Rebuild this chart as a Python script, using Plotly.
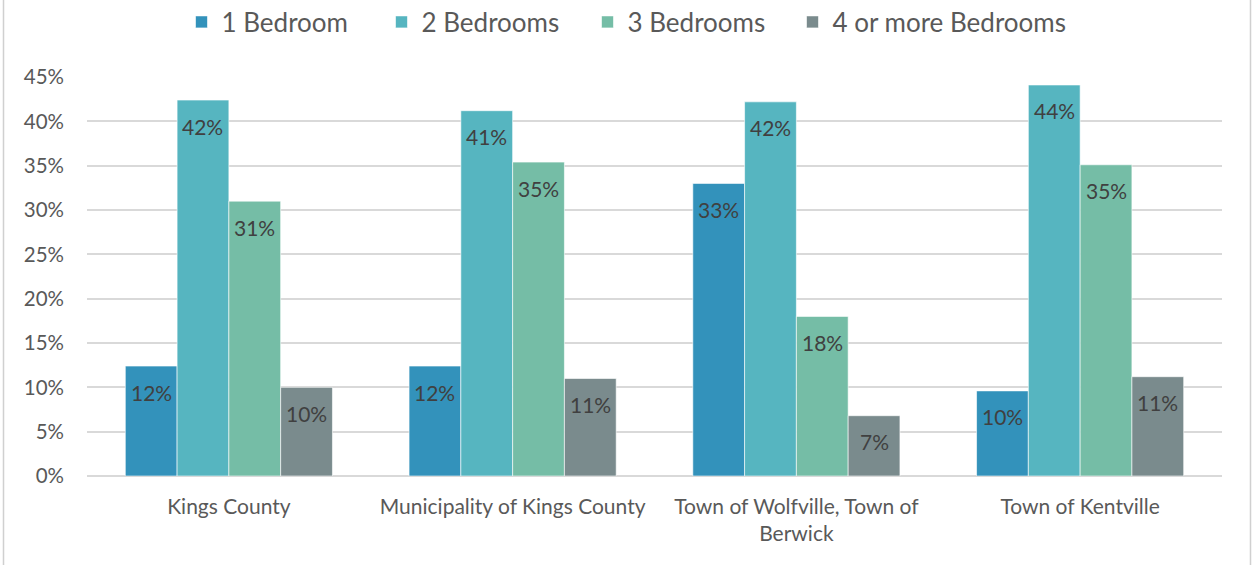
import plotly.graph_objects as go

categories = ["Kings County", "Municipality of Kings County",
              "Town of Wolfville, Town of<br>Berwick", "Town of Kentville"]
series_names = ["1 Bedroom", "2 Bedrooms", "3 Bedrooms", "4 or more Bedrooms"]
one_bed = [12.4, 12.4, 33.0, 9.6]
two_bed = [42.4, 41.2, 42.2, 44.1]
three_bed = [31.0, 35.4, 18.0, 35.1]
four_bed = [10.0, 11.0, 6.8, 11.2]
colors = ["#3392BB", "#56B5C0", "#75BDA6", "#7A8B8D"]
y_ticks = [0, 5, 10, 15, 20, 25, 30, 35, 40, 45]

FONT = "Lato, 'Open Sans', sans-serif"
W, H = 1252, 565
ML, MR, MT, MB = 87, 30, 77, 89
BARGAP = 0.27
plot_w = W - ML - MR
bar_px = plot_w / len(categories) * (1 - BARGAP) / len(series_names)
legend_left_px = [181.5, 381.5, 587.5, 792.5]

all_series = [one_bed, two_bed, three_bed, four_bed]

fig = go.Figure()
annotations = []
legend_layouts = {}
for i, (name, vals, col) in enumerate(zip(series_names, all_series, colors)):
    lg = "legend" if i == 0 else f"legend{i + 1}"
    fig.add_trace(go.Bar(
        name=name, x=categories, y=vals, legend=lg, showlegend=True,
        marker=dict(color=col, line=dict(color="rgba(255,255,255,0.6)", width=1)),
        hoverinfo="x+y",
    ))
    legend_layouts[lg] = dict(
        visible=True,
        orientation="h", xref="container", yref="container",
        x=legend_left_px[i] / W, xanchor="left", y=1 - 22 / H, yanchor="middle",
        font=dict(family=FONT, size=26, color="#595959"),
        itemwidth=30, itemclick=False, bgcolor="rgba(0,0,0,0)",
    )
    for cat, v in zip(categories, vals):
        annotations.append(dict(
            x=cat, y=v, xref="x", yref="y", text=f"{round(v):.0f}%",
            showarrow=False, yshift=-26, xshift=(i - 1.5) * bar_px,
            font=dict(family=FONT, size=21, color="#404040"),
        ))

fig.update_layout(
    width=W, height=H, showlegend=True,
    margin=dict(l=ML, r=MR, t=MT, b=MB, autoexpand=False),
    paper_bgcolor="white", plot_bgcolor="white",
    barmode="group", bargap=BARGAP, bargroupgap=0,
    font=dict(family=FONT, color="#595959"),
    xaxis=dict(tickfont=dict(family=FONT, size=21, color="#595959"),
               showline=False, ticks="", showgrid=False, automargin=False,
               ticklabelstandoff=16),
    yaxis=dict(range=[0, 45], tickvals=y_ticks, ticktext=[f"{t}%" for t in y_ticks],
               tickfont=dict(family=FONT, size=20.5, color="#595959"),
               gridcolor="#D9D9D9", gridwidth=1.5, zeroline=True, zerolinecolor="#D9D9D9",
               zerolinewidth=2, showline=False, ticks="", ticklabelstandoff=22,
               automargin=False),
    annotations=annotations,
    shapes=[
        dict(type="line", xref="paper", yref="paper", x0=(3.5 - ML) / plot_w, x1=(3.5 - ML) / plot_w,
             y0=-0.3, y1=1.3, line=dict(color="#D0D0D0", width=1.5)),
        dict(type="line", xref="paper", yref="paper", x0=(1250.5 - ML) / plot_w, x1=(1250.5 - ML) / plot_w,
             y0=-0.3, y1=1.3, line=dict(color="#D0D0D0", width=1.5)),
    ],
    **legend_layouts,
)

fig.write_html("out.html", config={"displayModeBar": False},
               post_script="document.body.style.margin='0';document.body.style.overflow='hidden';")
